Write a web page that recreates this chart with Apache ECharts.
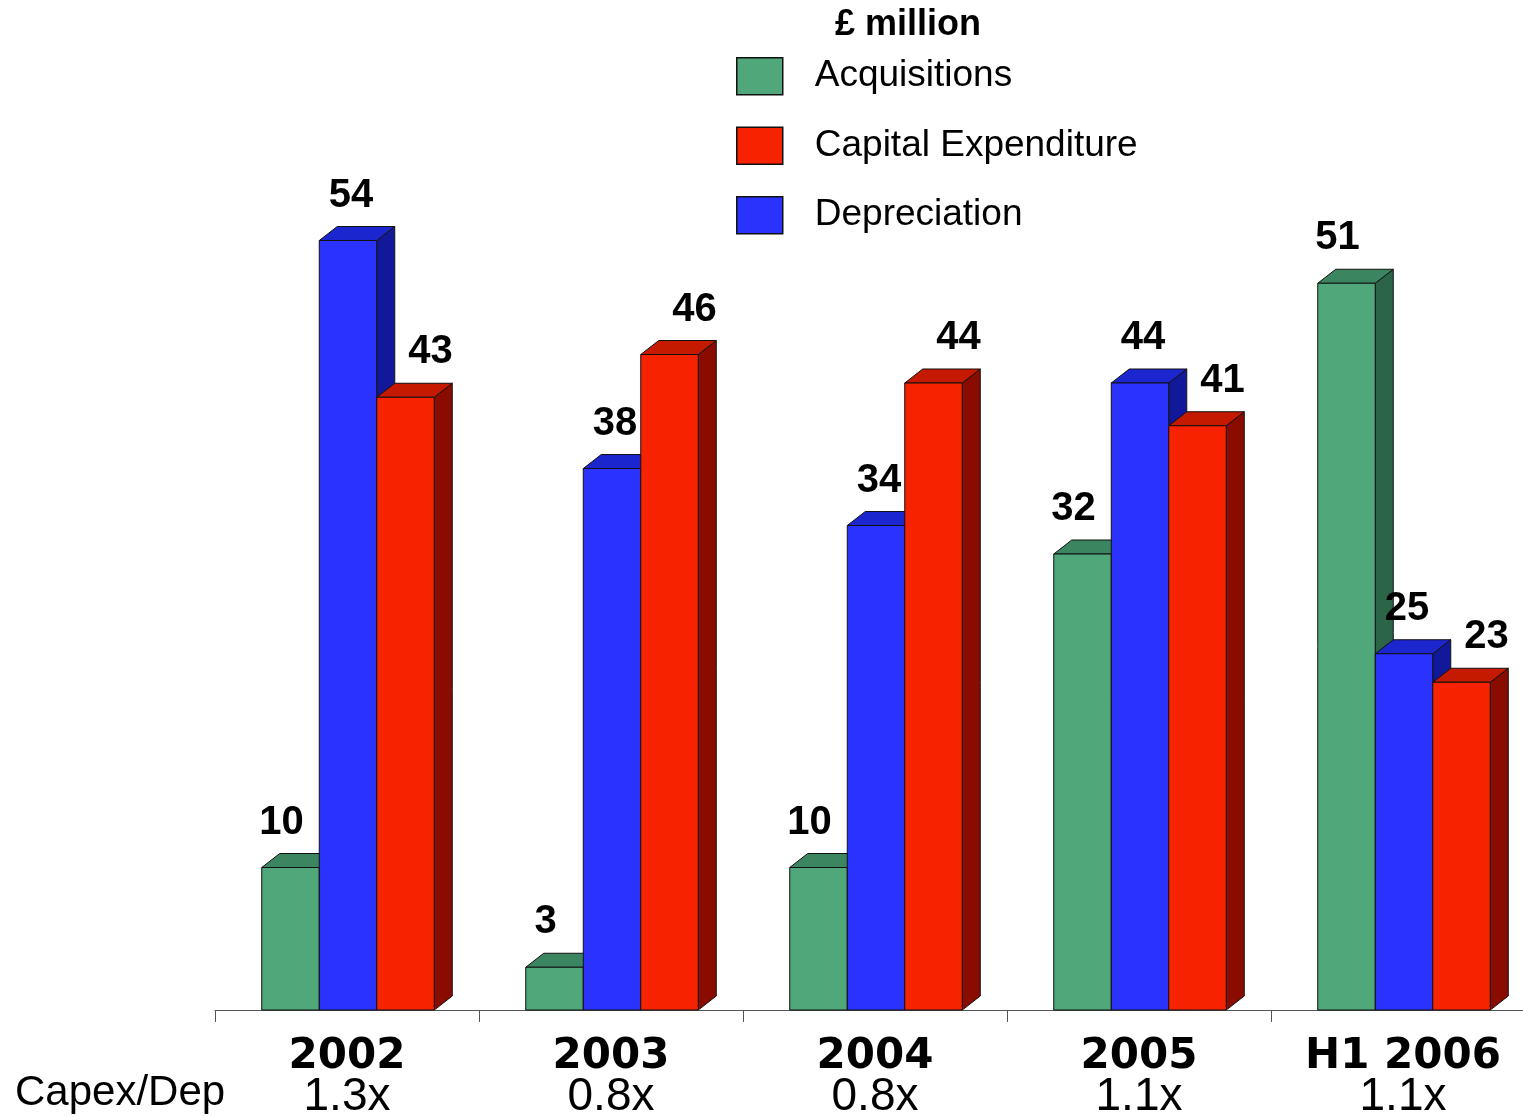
<!DOCTYPE html>
<html>
<head>
<meta charset="utf-8">
<script src="https://cdn.jsdelivr.net/npm/echarts@6/dist/echarts.min.js"></script>
<style>html,body{margin:0;padding:0;background:#fff}#c{width:1523px;height:1117px}</style>
</head>
<body>
<div id="c"></div>
<script>
const categories = ['2002', '2003', '2004', '2005', 'H1 2006'];
const capexDepRatios = ['1.3x', '0.8x', '0.8x', '1.1x', '1.1x'];
const acquisitions = [10, 3, 10, 32, 51];
const depreciation = [54, 38, 34, 44, 25];
const capitalExpenditure = [43, 46, 44, 41, 23];

const palette = {
  green: { front: '#4FA77A', top: '#3B8660', side: '#2B6447' },
  blue:  { front: '#2A33FE', top: '#1C26CF', side: '#12189A' },
  red:   { front: '#F62200', top: '#C51A00', side: '#8A0C00' }
};
const labelShift = [-9, 3, 25];

function makeRender(colors, slot) {
  return function (params, api) {
    const cat = api.value(0), v = api.value(1);
    const base = api.coord([cat, 0]);
    const top = api.coord([cat, v]);
    const bw = 57.5, dx = 18, dy = 14;
    const x0 = base[0] - 1.5 * bw + slot * bw + 1;
    const x1 = x0 + bw;
    const yb = base[1], yt = top[1];
    const line = { stroke: '#111', lineWidth: 1 };
    return {
      type: 'group',
      children: [
        { type: 'polygon', shape: { points: [[x1, yt], [x1 + dx, yt - dy], [x1 + dx, yb - dy], [x1, yb]] },
          style: Object.assign({ fill: colors.side }, line) },
        { type: 'polygon', shape: { points: [[x0, yt], [x0 + dx, yt - dy], [x1 + dx, yt - dy], [x1, yt]] },
          style: Object.assign({ fill: colors.top }, line) },
        { type: 'rect', shape: { x: x0, y: yt, width: bw, height: yb - yt },
          style: Object.assign({ fill: colors.front }, line) },
        { type: 'text', style: { text: String(v), x: (x0 + x1) / 2 + labelShift[slot], y: yt - 45,
          align: 'center', verticalAlign: 'middle', fill: '#000',
          font: 'bold 40px "Liberation Sans", Arial, sans-serif' } }
      ]
    };
  };
}

function toData(arr) { return arr.map((v, i) => [i, v]); }

const chart = echarts.init(document.getElementById('c'), null, { renderer: 'canvas' });
chart.setOption({
  animation: false,
  backgroundColor: '#fff',
  title: {
    text: '£ million', left: 830, top: 2, padding: 5,
    textStyle: { fontFamily: '"Liberation Sans", Arial, sans-serif', fontWeight: 'bold', fontSize: 36, color: '#000' }
  },
  legend: {
    orient: 'vertical', left: 736, top: 57, padding: 0,
    itemWidth: 46, itemHeight: 37, itemGap: 31,
    icon: 'rect',
    data: ['Acquisitions', 'Capital Expenditure', 'Depreciation'],
    itemStyle: { borderColor: '#111', borderWidth: 1.5 },
    textStyle: { fontFamily: '"Liberation Sans", Arial, sans-serif', fontSize: 37, color: '#000', padding: [0, 0, 0, 27] },
    selectedMode: false
  },
  grid: { left: 215, width: 1320, top: 155, bottom: 107, containLabel: false, outerBoundsMode: 'none' },
  xAxis: {
    type: 'category',
    data: categories,
    axisLine: { show: true, lineStyle: { color: '#555', width: 1 } },
    axisTick: { show: true, length: 12, lineStyle: { color: '#555' } },
    axisLabel: {
      margin: 27,
      formatter: function (val, idx) { return '{a|' + val + '}\n{b|' + capexDepRatios[idx] + '}'; },
      rich: {
        a: { fontFamily: '"DejaVu Sans", Verdana, sans-serif', fontWeight: 'bold', fontSize: 42, lineHeight: 40, color: '#000' },
        b: { fontFamily: '"Liberation Sans", Arial, sans-serif', fontSize: 46, lineHeight: 40, color: '#000' }
      }
    }
  },
  yAxis: { type: 'value', min: 0, max: 60, show: false, splitLine: { show: false } },
  graphic: [
    { type: 'text', left: 15, top: 1072,
      style: { text: 'Capex/Dep', font: '42px "Liberation Sans", Arial, sans-serif', fill: '#000' } }
  ],
  series: [
    { name: 'Acquisitions', type: 'custom', renderItem: makeRender(palette.green, 0),
      itemStyle: { color: palette.green.front }, encode: { x: 0, y: 1 }, data: toData(acquisitions) },
    { name: 'Depreciation', type: 'custom', renderItem: makeRender(palette.blue, 1),
      itemStyle: { color: palette.blue.front }, encode: { x: 0, y: 1 }, data: toData(depreciation) },
    { name: 'Capital Expenditure', type: 'custom', renderItem: makeRender(palette.red, 2),
      itemStyle: { color: palette.red.front }, encode: { x: 0, y: 1 }, data: toData(capitalExpenditure) }
  ]
});
</script>
</body>
</html>
